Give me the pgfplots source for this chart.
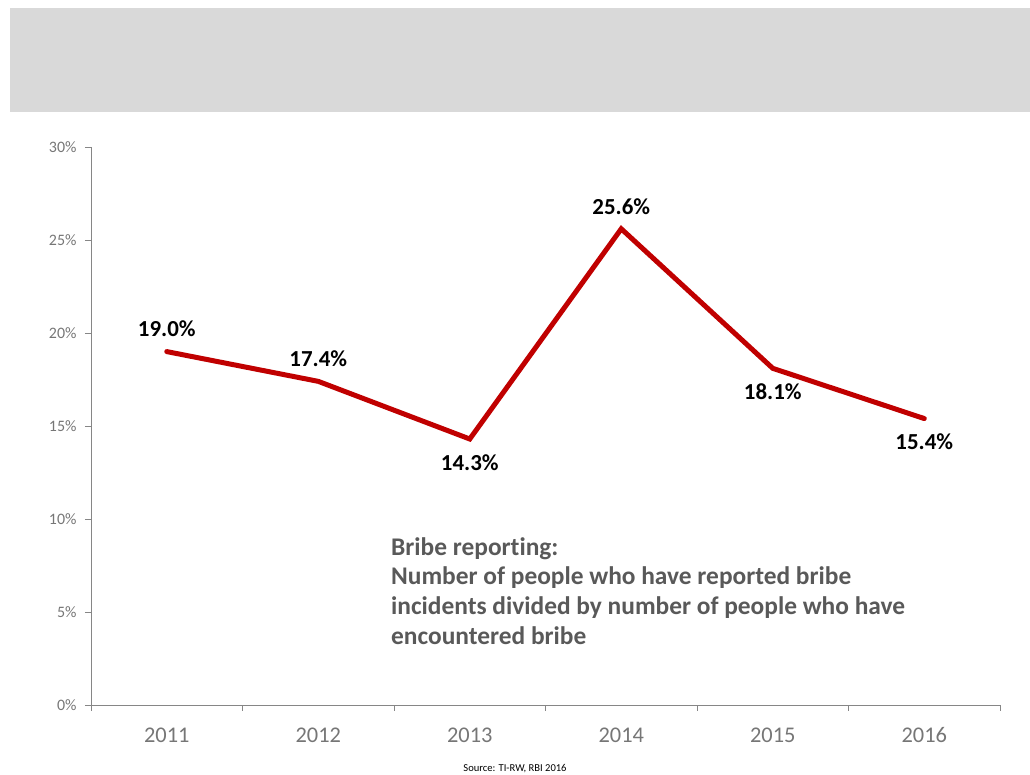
\documentclass[border=0pt]{standalone}
\usepackage{pgfplots}
\pgfplotsset{compat=1.18}
\usepackage{fontspec}
\setmainfont{Carlito}[Ligatures=NoCommon]
\definecolor{linered}{RGB}{192,0,0}
\definecolor{axgray}{RGB}{134,134,134}
\definecolor{ticktxt}{RGB}{118,118,118}
\definecolor{txtgray}{RGB}{89,89,89}
\definecolor{boxgray}{RGB}{217,217,217}
\pgfplotstableread{
x y
0 19.0
1 17.4
2 14.3
3 25.6
4 18.1
5 15.4
}\datatab
\pgfplotstableread{
x y
0 19.0
1 17.4
3 25.6
}\abovetab
\pgfplotstableread{
x y
2 14.3
4 18.1
5 15.4
}\belowtab
\begin{document}
\begin{tikzpicture}[x=1bp,y=1bp]
\path[use as bounding box] (0,0) rectangle (1030,775);
\fill[boxgray] (10,663) rectangle (1030,767);
\begin{axis}[
  at={(91bp,70bp)}, anchor=south west,
  scale only axis, width=909bp, height=558bp,
  xmin=-0.5, xmax=5.5, ymin=0, ymax=30,
  axis x line*=bottom, axis y line*=left,
  axis line style={axgray, line width=0.8bp, -},
  tick style={axgray, line width=0.8bp},
  tick align=outside, major tick length=6bp,
  xtick={-0.5,0.5,...,5.5},
  x tick label as interval,
  xticklabels={2011,2012,2013,2014,2015,2016},
  ytick={0,5,...,30},
  yticklabel={\pgfmathprintnumber{\tick}\%},
  /pgf/number format/assume math mode=true,
  yticklabel style={font=\fontsize{16}{18}\selectfont, text=ticktxt, xshift=-5bp},
  xticklabel style={font=\fontsize{22.5}{24}\selectfont, text=ticktxt, yshift=-13bp},
  clip=false,
]
\addplot[linered, line width=5bp, mark=none, line join=miter, line cap=round] table[x=x,y=y] {\datatab};
\addplot[draw=none, mark=none, point meta=y,
  nodes near coords={\pgfmathprintnumber[fixed,precision=1,fixed zerofill]{\pgfplotspointmeta}\%},
  nodes near coords style={font=\bfseries\fontsize{23}{25}\selectfont, text=black, anchor=south, yshift=11bp}]
  table[x=x,y=y] {\abovetab};
\addplot[draw=none, mark=none, point meta=y,
  nodes near coords={\pgfmathprintnumber[fixed,precision=1,fixed zerofill]{\pgfplotspointmeta}\%},
  nodes near coords style={font=\bfseries\fontsize{23}{25}\selectfont, text=black, anchor=north, yshift=-12bp}]
  table[x=x,y=y] {\belowtab};
\end{axis}
\node[anchor=north west, inner sep=0pt, align=left, text=txtgray, font=\bfseries\fontsize{25.5}{30}\selectfont] at (391,238)
{Bribe reporting:\\Number of people who have reported bribe\\incidents divided by number of people who have\\encountered bribe};
\node[font=\fontsize{10.6}{12}\selectfont] at (515,6) {Source: TI-RW, RBI 2016};
\end{tikzpicture}
\end{document}
